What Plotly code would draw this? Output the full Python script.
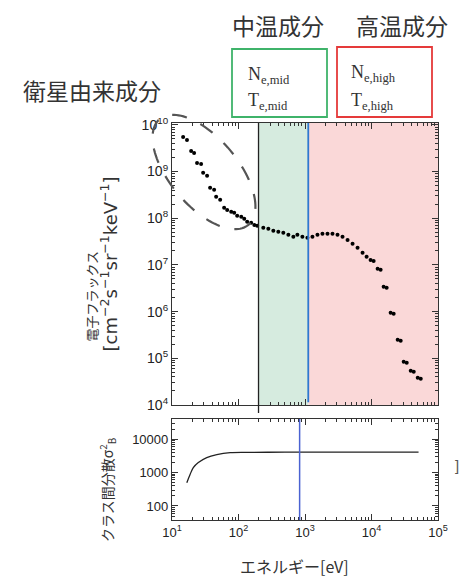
import numpy as np
import plotly.graph_objects as go

# ---------------- data ----------------
energy_ev = [14.7, 16.8, 19.4, 21.5, 23.8, 27.4, 29.4, 33.7, 37.4, 43.0, 46.1, 53.0,
             60.8, 67.6, 77.6, 86.1, 95.5, 110, 122, 135, 155, 173, 191,
             236, 281, 334, 397, 472, 562, 668, 768, 914, 1087, 1294, 1539, 1830,
             2178, 2590, 3082, 3667, 4365, 5190, 6170, 7340, 8440, 9690, 10760,
             12360, 13710, 15230, 16900, 19410, 21540, 24760, 27480, 30500, 33860,
             38900, 43150, 49570, 55050]
flux = [5.53e9, 4.77e9, 2.77e9, 2.51e9, 1.53e9, 1.46e9, 9.4e8, 8.1e8, 4.5e8, 4.1e8, 2.9e8, 2.5e8,
        1.67e8, 1.51e8, 1.37e8, 1.31e8, 1.13e8, 1.07e8, 9.7e7, 8.4e7, 8.0e7, 7.2e7, 6.9e7,
        6.23e7, 5.93e7, 5.37e7, 5.12e7, 4.87e7, 4.41e7, 4.0e7, 4.41e7, 4.0e7, 3.8e7, 4.0e7, 4.41e7, 4.63e7,
        4.63e7, 4.63e7, 4.41e7, 4.0e7, 3.44e7, 2.83e7, 2.32e7, 1.82e7, 1.49e7, 1.28e7, 1.22e7,
        8.26e6, 7.86e6, 3.40e6, 3.24e6, 9.43e5, 8.98e5, 2.49e5, 2.37e5, 8.41e4, 8.0e4,
        5.40e4, 5.14e4, 3.82e4, 3.64e4]

var_energy = [16.7, 18.7, 20.9, 24.9, 33.3, 47.2, 75, 150, 500, 1000, 5000, 20000, 51000]
var_sigma = [494, 873, 1396, 1981, 2787, 3421, 3920, 4000, 4050, 4060, 4060, 4060, 4060]

mid_lo, mid_hi, high_hi = 200, 1120, 1e5
threshold_bottom = 830

x_ticks = [10, 100, 1000, 10000, 100000]
x_ticktext = ["10<sup>1</sup>", "10<sup>2</sup>", "10<sup>3</sup>", "10<sup>4</sup>", "10<sup>5</sup>"]
y_ticks = [1e4, 1e5, 1e6, 1e7, 1e8, 1e9, 1e10]
y_ticktext = ["10<sup>4</sup>", "10<sup>5</sup>", "10<sup>6</sup>", "10<sup>7</sup>",
              "10<sup>8</sup>", "10<sup>9</sup>", "10<sup>10</sup>"]
y2_ticks = [100, 1000, 10000]
y2_ticktext = ["100", "1000", "10000"]


def minor_vals(lo_exp, hi_exp):
    return [m * 10.0 ** e for e in range(lo_exp, hi_exp) for m in range(2, 10)]


x_minor = minor_vals(1, 5)
y_minor = minor_vals(4, 10)
y2_minor = minor_vals(1, 5)

# ---------------- layout helpers ----------------
W, H = 463, 579
L, R, T, B = 172, 438, 123, 520  # plot region in pixels


def px(x):
    return (x - L) / (R - L)


def py(y):
    return (B - y) / (B - T)


JP = "Noto Sans CJK JP"
SANS = "Liberation Sans"
SERIF = "Liberation Serif"

fig = go.Figure()

fig.add_trace(go.Scatter(x=energy_ev, y=flux, mode="markers",
                         marker=dict(color="black", size=4, symbol="circle"),
                         xaxis="x", yaxis="y", showlegend=False))
fig.add_trace(go.Scatter(x=var_energy, y=var_sigma, mode="lines",
                         line=dict(color="#222", width=1.3, shape="spline"),
                         xaxis="x2", yaxis="y2", showlegend=False))
# empty traces so the minor-tick overlay axes are drawn
for xa, ya in [("x3", "y3"), ("x4", "y4")]:
    fig.add_trace(go.Scatter(x=[], y=[], xaxis=xa, yaxis=ya, showlegend=False, hoverinfo="skip"))

shapes = [
    dict(type="rect", xref="x", yref="y domain", x0=mid_lo, x1=mid_hi, y0=0, y1=1,
         fillcolor="#d6ebdf", line=dict(width=0), layer="below"),
    dict(type="rect", xref="x", yref="y domain", x0=mid_hi, x1=high_hi, y0=0, y1=1,
         fillcolor="#fad8d8", line=dict(width=0), layer="below"),
    dict(type="line", xref="x", yref="paper", x0=mid_lo, x1=mid_lo, y0=py(413), y1=1,
         line=dict(color="#222", width=1.3)),
    dict(type="line", xref="x", yref="y domain", x0=mid_hi, x1=mid_hi, y0=0.01, y1=1,
         line=dict(color="#2f78d0", width=1.8)),
    dict(type="line", xref="x2", yref="y2 domain", x0=threshold_bottom, x1=threshold_bottom, y0=0, y1=1,
         line=dict(color="#4a62d2", width=1.5)),
    # boxes for components
    dict(type="rect", xref="paper", yref="paper", x0=px(232), x1=px(327), y0=py(117), y1=py(49),
         line=dict(color="#3fb36a", width=1.8)),
    dict(type="rect", xref="paper", yref="paper", x0=px(337), x1=px(432), y0=py(117), y1=py(47),
         line=dict(color="#e53a3a", width=1.8)),
]

# dashed ellipse around satellite-origin component (decoration)
t = np.linspace(0, 2 * np.pi, 121)
cx, cy, a, b, ang = 204, 172, 69, 34, np.deg2rad(50)
ex = cx + a * np.cos(t) * np.cos(ang) - b * np.sin(t) * np.sin(ang)
ey = cy + a * np.cos(t) * np.sin(ang) + b * np.sin(t) * np.cos(ang)
path = "M " + " L ".join(f"{px(xx):.5f},{py(yy):.5f}" for xx, yy in zip(ex, ey)) + " Z"
shapes.append(dict(type="path", xref="paper", yref="paper", path=path,
                   line=dict(color="#555", width=2.2, dash="longdash")))

annotations = [
    dict(text="中温成分", x=px(278), y=py(25), font=dict(family=JP, size=23, color="#333")),
    dict(text="高温成分", x=px(402), y=py(25), font=dict(family=JP, size=23, color="#333")),
    dict(text="衛星由来成分", x=px(92), y=py(90), font=dict(family=JP, size=23, color="#333")),
    dict(text="N<sub>e,mid</sub>", x=px(246), y=py(75), xanchor="left",
         font=dict(family=SERIF, size=18, color="#333")),
    dict(text="T<sub>e,mid</sub>", x=px(246), y=py(101), xanchor="left",
         font=dict(family=SERIF, size=18, color="#333")),
    dict(text="N<sub>e,high</sub>", x=px(349), y=py(73), xanchor="left",
         font=dict(family=SERIF, size=18, color="#333")),
    dict(text="T<sub>e,high</sub>", x=px(349), y=py(101), xanchor="left",
         font=dict(family=SERIF, size=18, color="#333")),
    dict(text="電子フラックス", x=px(91), y=py(344), textangle=-90, yanchor="bottom",
         font=dict(family=JP, size=13, color="#333")),
    dict(text="[cm<sup>−2</sup>s<sup>−1</sup>sr<sup>−1</sup>keV<sup>−1</sup>]", x=px(109), y=py(354),
         textangle=-90, yanchor="bottom", font=dict(family="DejaVu Sans", size=18, color="#333")),
    dict(text="クラス間分散σ<sup>2</sup><sub>B</sub>", x=px(107), y=py(490), textangle=-90,
         font=dict(family=JP, size=14, color="#333")),
    dict(text="エネルギー[eV]", x=px(294), y=py(566), font=dict(family=JP, size=16, color="#333")),
    dict(text="]", x=px(457), y=py(465), font=dict(family=SANS, size=15, color="#555")),
]
for an in annotations:
    an.setdefault("xref", "paper")
    an.setdefault("yref", "paper")
    an.setdefault("showarrow", False)
    an.setdefault("xanchor", "center")
    an.setdefault("yanchor", "middle")

axis_common = dict(type="log", showline=True, linecolor="#333", linewidth=1.2, mirror="ticks",
                   ticks="inside", ticklen=6, tickcolor="#333", showgrid=False, zeroline=False,
                   tickfont=dict(family=SANS, size=13, color="#222"))
minor_common = dict(type="log", showline=False, mirror="ticks", ticks="inside", ticklen=3,
                    tickcolor="#333", tickwidth=1, showgrid=False, zeroline=False,
                    showticklabels=False)

top_dom = [py(405), 1]
bot_dom = [0, py(419)]

fig.update_layout(
    width=W, height=H,
    margin=dict(l=L, r=W - R, t=T, b=H - B),
    paper_bgcolor="white", plot_bgcolor="white",
    showlegend=False,
    shapes=shapes,
    annotations=annotations,
    xaxis=dict(**axis_common, range=[1, 5], domain=[0, 1], anchor="y",
               tickvals=x_ticks, showticklabels=False),
    yaxis=dict(**axis_common, range=[4, 10.04], domain=top_dom, anchor="x",
               tickvals=y_ticks, ticktext=y_ticktext),
    xaxis2=dict(**axis_common, range=[1, 5], domain=[0, 1], anchor="y2",
                tickvals=x_ticks, ticktext=x_ticktext),
    yaxis2=dict(**axis_common, range=[1.58, 4.6], domain=bot_dom, anchor="x2",
                tickvals=y2_ticks, ticktext=y2_ticktext),
    # minor tick overlays
    xaxis3=dict(**minor_common, range=[1, 5], overlaying="x", anchor="y3", tickvals=x_minor),
    yaxis3=dict(**minor_common, range=[4, 10.04], overlaying="y", anchor="x3", tickvals=y_minor),
    xaxis4=dict(**minor_common, range=[1, 5], overlaying="x2", anchor="y4", tickvals=x_minor),
    yaxis4=dict(**minor_common, range=[1.58, 4.6], overlaying="y2", anchor="x4", tickvals=y2_minor),
)
fig.update_layout(yaxis_tickfont_size=14)

fig.write_html("out.html")
